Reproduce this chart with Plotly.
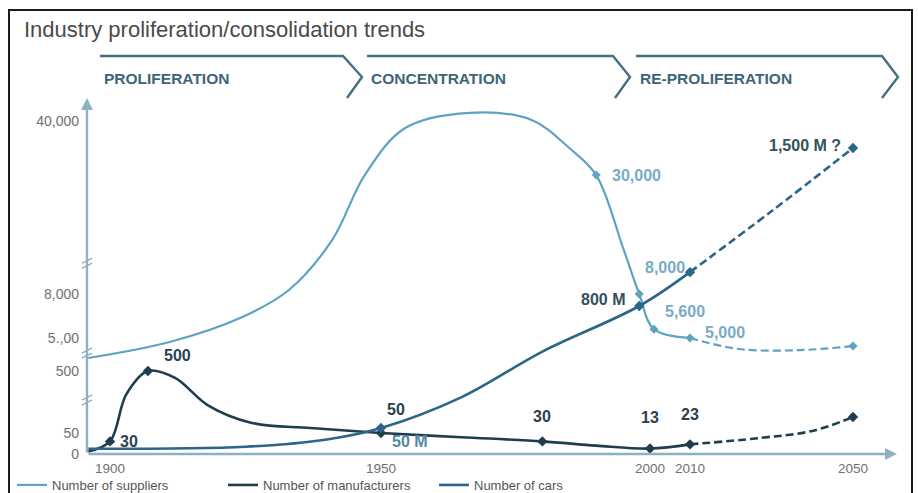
import numpy as np
import plotly.graph_objects as go

FONT = "Liberation Sans, Arial, sans-serif"

# ---------------------------------------------------------------- data
year_ticks = [1900, 1950, 2000, 2010, 2050]
count_ticks = [0, 50, 500, 5000, 8000, 40000]
count_tick_text = ["0", "50", "500", "5.,00", "8,000", "40,000"]

series_names = ["Number of suppliers", "Number of manufacturers", "Number of cars"]
phases = ["PROLIFERATION", "CONCENTRATION", "RE-PROLIFERATION"]
projection_from = 2010

supplier_years = [1896, 1911, 1924, 1933, 1941, 1947, 1954.5, 1966.5, 1978, 1985,
                  1990, 1995, 1998, 2001, 2010, 2022, 2037, 2050]
supplier_values = [2270, 4450, 6360, 8740, 18000, 30000, 38700, 41500, 40200, 35000,
                   30000, 16500, 8000, 5600, 5000, 3500, 3350, 3900]
supplier_marked = [1990, 1998, 2001, 2010, 2050]
supplier_labelled = [1990, 1998, 2001, 2010]

manufacturer_years = [1896, 1900, 1903, 1907, 1912, 1918, 1926, 1937, 1950, 1965,
                      1980, 1990, 2000, 2010, 2027, 2040, 2050]
manufacturer_values = [6, 30, 330, 500, 450, 253, 125, 86, 50, 40,
                       30, 20, 13, 23, 38, 65, 166]
manufacturer_marked = [1900, 1907, 1950, 1980, 2000, 2010, 2050]
manufacturer_labelled = [1900, 1907, 1950, 1980, 2000, 2010]

car_years = [1896, 1925, 1940, 1950, 1965, 1980, 1998, 2010, 2030, 2050]
car_millions = [10, 14, 28, 50, 240, 520, 800, 950, 1220, 1500]
car_marked = [1950, 1998, 2010, 2050]
car_labelled = [1950, 1998, 2050]

# ---------------------------------------------------------------- scales
# Broken time axis: px to the right of the vertical axis for each anchor year
TIME_ANCHORS = [1850, 1900, 1950, 2000, 2010, 2050, 2100]
TIME_PX = [-248, 23, 294, 563, 603, 766, 970]
# Broken count axis (suppliers / manufacturers): px above the time axis
COUNT_ANCHORS = [0, 50, 500, 5000, 8000, 40000, 60000]
COUNT_PX = [0, 21, 83, 116, 160, 333, 441]
# Car parc (millions) on its own unlabelled scale
CAR_ANCHORS = [0, 50, 800, 1500]
CAR_PX = [0, 26, 148, 306]


def tx(years):
    return np.interp(years, TIME_ANCHORS, TIME_PX)


def ty_count(values):
    return np.interp(values, COUNT_ANCHORS, COUNT_PX)


def ty_car(values):
    return np.interp(values, CAR_ANCHORS, CAR_PX)


# plot-area geometry (px)
W, H = 918, 493
ML, MR, MT, MB = 85, 8, 88, 30
PW, PH = W - ML - MR, H - MT - MB
X_RANGE = [-2, PW - 2]
Y_RANGE = [-9, PH - 9]


def paper_from_screen(sx, sy):
    return (sx - ML) / PW, (H - MB - sy) / PH


def paper_from_axis(xu, yu):
    return (xu - X_RANGE[0]) / PW, (yu - Y_RANGE[0]) / PH


# ---------------------------------------------------------------- styles
C_SUP = "#5fa2c2"
C_SUP_TXT = "#78abc6"
C_MAN = "#1f3d4c"
C_MAN_TXT = "#2a4250"
C_CAR = "#2b6587"
C_CAR_TXT = "#35505e"
C_AXIS = "#8cb2c2"
C_HEAD = "#44707f"
C_TICK = "#707070"

fig = go.Figure()


def add_series(name, years, values, scale, color, width):
    years = np.asarray(years, float)
    xs, ys = tx(years), scale(np.asarray(values, float))
    solid = years <= projection_from
    dashed = years >= projection_from
    fig.add_trace(go.Scatter(
        x=xs[solid], y=ys[solid], mode="lines", name=name, legendgroup=name,
        line=dict(color=color, width=width, shape="spline", smoothing=1.0),
        hoverinfo="skip"))
    fig.add_trace(go.Scatter(
        x=xs[dashed], y=ys[dashed], mode="lines", showlegend=False, legendgroup=name,
        line=dict(color=color, width=width, shape="spline", smoothing=1.0, dash="8px,4px"),
        hoverinfo="skip"))


def add_markers(name, years, values, marked, scale, color, size):
    vals = [values[years.index(y)] for y in marked]
    fig.add_trace(go.Scatter(
        x=tx(marked), y=scale(vals), mode="markers", showlegend=False, legendgroup=name,
        marker=dict(symbol="diamond", size=size, color=color), hoverinfo="skip"))


add_series(series_names[0], supplier_years, supplier_values, ty_count, C_SUP, 2.2)
add_series(series_names[1], manufacturer_years, manufacturer_values, ty_count, C_MAN, 2.6)
add_series(series_names[2], car_years, car_millions, ty_car, C_CAR, 2.6)
add_markers(series_names[0], supplier_years, supplier_values, supplier_marked, ty_count, C_SUP, 7)
add_markers(series_names[1], manufacturer_years, manufacturer_values, manufacturer_marked, ty_count, C_MAN, 8)
add_markers(series_names[2], car_years, car_millions, car_marked, ty_car, C_CAR, 8)

annotations = []


def point_label(text, year, yu, color, xanchor, xshift, yshift, size=16):
    annotations.append(dict(
        x=float(tx(year)), y=float(yu), xref="x", yref="y", text=text, showarrow=False,
        xanchor=xanchor, yanchor="middle", xshift=xshift, yshift=yshift,
        font=dict(family=FONT, size=size, color=color)))


# label placement: (xanchor, xshift, yshift)
sup_pos = {1990: ("left", 14, 0), 1998: ("left", 4, 27), 2001: ("left", 9, 18), 2010: ("left", 13, 6)}
for y in supplier_labelled:
    v = supplier_values[supplier_years.index(y)]
    a, dx, dy = sup_pos[y]
    point_label(f"<b>{v:,}</b>", y, ty_count(v), C_SUP_TXT, a, dx, dy)

man_pos = {1900: ("left", 8, 0), 1907: ("left", 14, 16), 1950: ("center", 15, 24),
           1980: ("center", 0, 25), 2000: ("center", 0, 31), 2010: ("center", 0, 30)}
for y in manufacturer_labelled:
    v = manufacturer_values[manufacturer_years.index(y)]
    a, dx, dy = man_pos[y]
    point_label(f"<b>{v:,}</b>", y, ty_count(v), C_MAN_TXT, a, dx, dy)

car_pos = {1950: ("left", 9, -13, "#5289a6", ""), 1998: ("right", -12, 7, C_CAR_TXT, ""),
           2050: ("right", -10, 3, C_CAR_TXT, " ?")}
for y in car_labelled:
    v = car_millions[car_years.index(y)]
    a, dx, dy, col, suffix = car_pos[y]
    point_label(f"<b>{v:,} M{suffix}</b>", y, ty_car(v), col, a, dx, dy)

# axes drawn as arrows
annotations.append(dict(x=0, y=356, ax=0, ay=0, xref="x", yref="y", axref="x", ayref="y",
                        text="", showarrow=True, arrowhead=2, arrowsize=1, arrowwidth=2.4,
                        arrowcolor=C_AXIS, standoff=0, startstandoff=0))
annotations.append(dict(x=810, y=0, ax=0, ay=0, xref="x", yref="y", axref="x", ayref="y",
                        text="", showarrow=True, arrowhead=2, arrowsize=1, arrowwidth=2.4,
                        arrowcolor=C_AXIS, standoff=0, startstandoff=0))

# title
tx0, ty0 = paper_from_screen(22, 30)
annotations.append(dict(x=tx0, y=ty0, xref="paper", yref="paper", text="Industry proliferation/consolidation trends",
                        showarrow=False, xanchor="left", yanchor="middle",
                        font=dict(family=FONT, size=22, color="#4a4a4a")))

shapes = []


def screen_path(points):
    pts = [paper_from_screen(*p) for p in points]
    return "M" + " L".join(f"{px:.5f},{py:.5f}" for px, py in pts)


# phase banner
banner = [
    ((100, 56), (343, 56), (362, 77), (347, 98)),
    ((367, 56), (613, 56), (630, 77), (615, 98)),
    ((636, 56), (882, 56), (898, 77), (882, 98)),
]
for label, pts in zip(phases, banner):
    shapes.append(dict(type="path", xref="paper", yref="paper", path=screen_path(pts),
                       line=dict(color=C_HEAD, width=2.4)))
    lx, ly = paper_from_screen(pts[0][0] + 2, 78)
    annotations.append(dict(x=lx, y=ly, xref="paper", yref="paper", text=f"<b>{label}</b>",
                            showarrow=False, xanchor="left", yanchor="middle",
                            font=dict(family=FONT, size=15.5, color="#3d6577")))

# axis-break marks on the count axis
for v in [290, 2950, 13700]:
    yu = float(ty_count(v))
    gx0, gy0 = paper_from_axis(-3, yu - 2)
    gx1, gy1 = paper_from_axis(3, yu + 2)
    shapes.append(dict(type="rect", xref="paper", yref="paper", x0=gx0, x1=gx1, y0=gy0, y1=gy1,
                       fillcolor="white", line=dict(width=0)))
    for off in (-2.5, 2.5):
        p0 = paper_from_axis(-5, yu + off - 2.5)
        p1 = paper_from_axis(5, yu + off + 2.5)
        shapes.append(dict(type="line", xref="paper", yref="paper", x0=p0[0], y0=p0[1],
                           x1=p1[0], y1=p1[1], line=dict(color="#7f9eab", width=1.2)))

# outer frame
fx0, fy0 = paper_from_screen(9, 505)
fx1, fy1 = paper_from_screen(912, 10)
shapes.append(dict(type="rect", xref="paper", yref="paper", x0=fx0, x1=fx1, y0=fy0, y1=fy1,
                   line=dict(color="#1a1a1a", width=2), fillcolor="rgba(0,0,0,0)"))

lgx, lgy = paper_from_screen(12, 470)

fig.update_layout(
    width=W, height=H,
    margin=dict(l=ML, r=MR, t=MT, b=MB, autoexpand=False),
    paper_bgcolor="white", plot_bgcolor="white",
    font=dict(family=FONT, color=C_TICK),
    showlegend=True,
    legend=dict(orientation="h", x=lgx, y=lgy, xanchor="left", yanchor="top",
                font=dict(family=FONT, size=13, color="#555555"),
                entrywidth=166, entrywidthmode="pixels", bgcolor="rgba(0,0,0,0)"),
    xaxis=dict(range=X_RANGE, showgrid=False, zeroline=False, showline=False,
               tickvals=[float(v) for v in tx(year_ticks)], ticktext=[str(y) for y in year_ticks],
               ticks="", tickfont=dict(family=FONT, size=13.5, color=C_TICK),
               ticklabelstandoff=-5),
    yaxis=dict(range=Y_RANGE, showgrid=False, zeroline=False, showline=False,
               tickvals=[float(v) for v in ty_count(count_ticks)], ticktext=count_tick_text,
               ticks="", tickfont=dict(family=FONT, size=14, color=C_TICK),
               ticklabelstandoff=5),
    shapes=shapes,
    annotations=annotations,
)

fig.write_html("out.html")
